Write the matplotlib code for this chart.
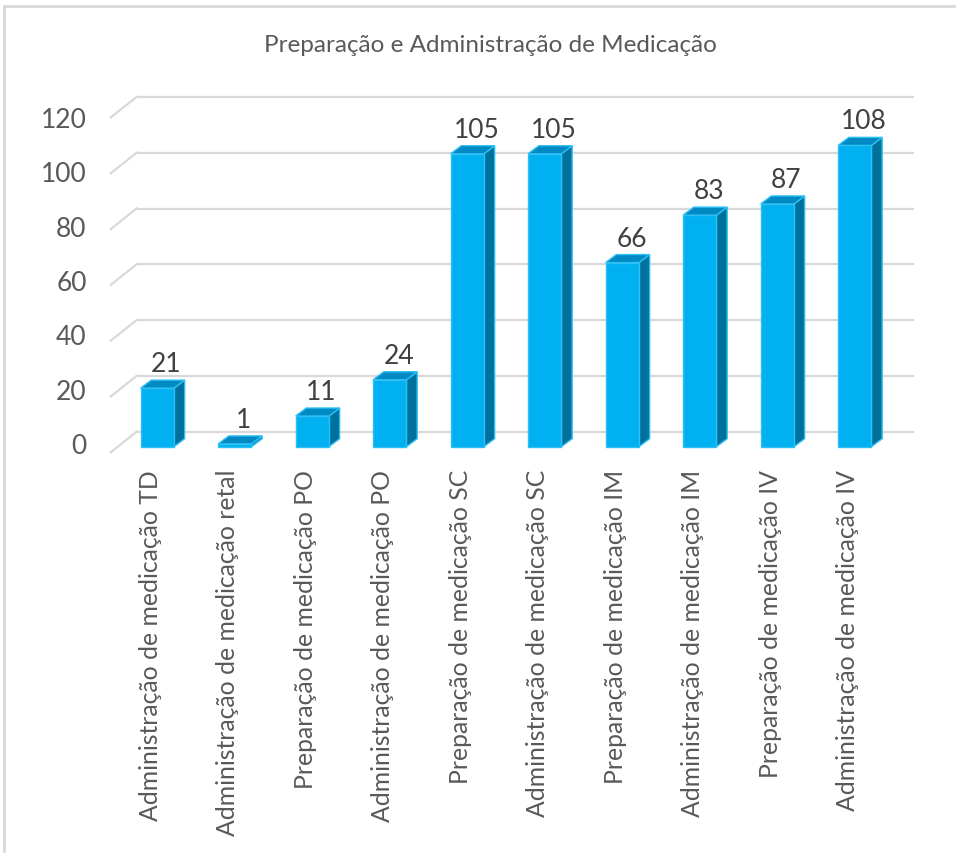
import matplotlib
matplotlib.use("Agg")
import matplotlib.pyplot as plt
from matplotlib.patches import Polygon, Rectangle
import numpy as np

# Chart data
categories = [
    "Administração de medicação TD",
    "Administração de medicação retal",
    "Preparação de medicação PO",
    "Administração de medicação PO",
    "Preparação de medicação SC",
    "Administração de medicação SC",
    "Preparação de medicação IM",
    "Administração de medicação IM",
    "Preparação de medicação IV",
    "Administração de medicação IV",
]
values = [21, 1, 11, 24, 105, 105, 66, 83, 87, 108]
y_ticks = [0, 20, 40, 60, 80, 100, 120]
title = "Preparação e Administração de Medicação"

# Style
plt.rcParams["font.family"] = ["Lato", "DejaVu Sans"]
FRONT = "#00B0F0"
SIDE = "#00719C"
TOP = "#0089C2"
EDGE = "#2CC0F5"
GRID = "#D9D9D9"
TEXT = "#595959"
LABEL = "#404040"

W, H = 956, 854
fig = plt.figure(figsize=(W / 100, H / 100), dpi=100)

# Pixel geometry of the plot region
px_left, px_right, px_top, px_bottom = 100, 930, 90, 460
x0_px, dx_px = 157.3, 77.5          # first bar centre, category spacing
y0_px, dy_px = 447.7, 2.79          # bar base, pixels per unit

ax = fig.add_axes([px_left / W, 1 - px_bottom / H,
                   (px_right - px_left) / W, (px_bottom - px_top) / H])
ax.set_xlim((px_left - x0_px) / dx_px, (px_right - x0_px) / dx_px)
ax.set_ylim((y0_px - px_bottom) / dy_px, (y0_px - px_top) / dy_px)
ax.axis("off")

# Oblique depth offsets (data units)
bar_w = 33.3 / dx_px
depth_x = 10.7 / dx_px
depth_y = 8.0 / dy_px
wall_dx = 26.0 / dx_px
wall_dy = 20.7 / dy_px
front_shift = (447.7 - 453.3) / dy_px   # floor front edge below bar base
back_shift = (447.7 - 432.7) / dy_px    # back wall above bar base
wall_x_back = (136.7 - x0_px) / dx_px
wall_x_right = (914.0 - x0_px) / dx_px

# Back wall and side wall gridlines
for v in y_ticks:
    ax.plot([wall_x_back, wall_x_right], [v + back_shift] * 2,
            color=GRID, lw=1.6, zorder=1, solid_capstyle="butt")
    ax.plot([wall_x_back - wall_dx, wall_x_back],
            [v + front_shift, v + front_shift + wall_dy],
            color=GRID, lw=1.6, zorder=1)

# 3D-looking columns
x = np.arange(len(values))
ax.bar(x, values, width=bar_w, color=FRONT, edgecolor=EDGE, lw=1.0, zorder=3)
for xi, v in zip(x, values):
    xl, xr = xi - bar_w / 2, xi + bar_w / 2
    side = Polygon([(xr, 0), (xr + depth_x, depth_y),
                    (xr + depth_x, v + depth_y), (xr, v)],
                   closed=True, facecolor=SIDE, edgecolor=EDGE, lw=1.0, zorder=2.9)
    top = Polygon([(xl, v), (xr, v), (xr + depth_x, v + depth_y),
                   (xl + depth_x, v + depth_y)],
                  closed=True, facecolor=TOP, edgecolor=EDGE, lw=1.0, zorder=3.1)
    ax.add_patch(side)
    ax.add_patch(top)
    ax.text(xi + depth_x * 0.85, v + depth_y + 9.0 / dy_px, str(v),
            ha="center", va="baseline", fontsize=19, color=LABEL, zorder=4)

# Y tick labels on the floor-front plane
for v in y_ticks:
    y_pos = (1.0 + 2.72 * v) / dy_px
    ax.text((86.7 - x0_px) / dx_px, y_pos, str(v), ha="right", va="center",
            fontsize=19, color=TEXT)

# Category labels, rotated
for xi, c in zip(x, categories):
    ax.text(xi - 7.0 / dx_px, (y0_px - 470) / dy_px, c, rotation=90,
            ha="center", va="top", fontsize=17.8, color=TEXT, clip_on=False)

# Title
fig.text(490 / W, 1 - 45 / H, title, ha="center", va="center",
         fontsize=17.5, color=TEXT)

# Chart area border
fig.patches.append(Rectangle((4 / W, -0.1), 1.2, 1 - 7 / H + 0.1,
                             transform=fig.transFigure, fill=False,
                             edgecolor=GRID, lw=2.0))

fig.savefig("out.png", dpi=100, facecolor="white")
